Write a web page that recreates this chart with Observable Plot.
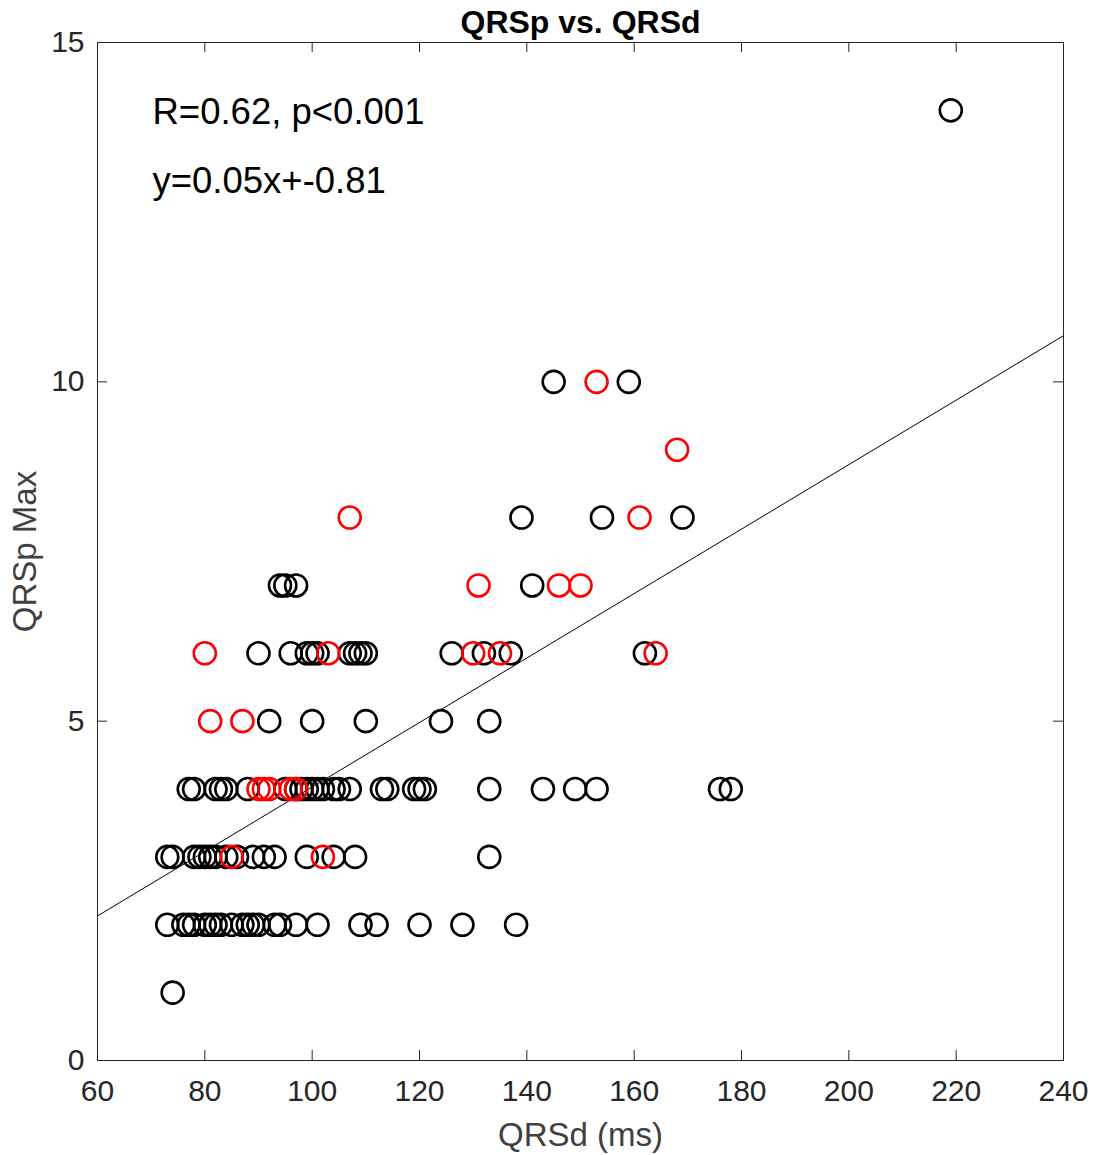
<!DOCTYPE html>
<html>
<head>
<meta charset="utf-8">
<script src="https://cdn.jsdelivr.net/npm/d3@7"></script>
<script src="https://cdn.jsdelivr.net/npm/@observablehq/plot@0.6"></script>
<style>
  html, body { margin: 0; padding: 0; background: #fff; }
  #chart svg { display: block; }
</style>
</head>
<body>
<div id="chart"></div>
<script>
// ---- data ----
const blackX = [
  219,
  145, 159,
  139, 154, 169,
  94, 95, 97, 141,
  90, 96, 99, 100, 101, 107, 108, 109, 110, 126, 132, 137, 162,
  92, 100, 110, 124, 133,
  77, 78, 82, 83, 84, 88, 95, 97, 98, 99, 100, 101, 102, 104, 105, 107, 113, 114, 119, 120, 121, 133, 143, 149, 153, 176, 178,
  73, 74, 78, 79, 80, 81, 82, 84, 86, 89, 91, 93, 99, 104, 108, 133,
  73, 76, 77, 78, 80, 81, 82, 83, 85, 87, 88, 89, 90, 93, 94, 97, 101, 109, 112, 120, 128, 138,
  74
];
const blackY = [
  14,
  10, 10,
  8, 8, 8,
  7, 7, 7, 7,
  6, 6, 6, 6, 6, 6, 6, 6, 6, 6, 6, 6, 6,
  5, 5, 5, 5, 5,
  4, 4, 4, 4, 4, 4, 4, 4, 4, 4, 4, 4, 4, 4, 4, 4, 4, 4, 4, 4, 4, 4, 4, 4, 4, 4, 4,
  3, 3, 3, 3, 3, 3, 3, 3, 3, 3, 3, 3, 3, 3, 3, 3,
  2, 2, 2, 2, 2, 2, 2, 2, 2, 2, 2, 2, 2, 2, 2, 2, 2, 2, 2, 2, 2, 2,
  1
];
const redX = [153, 168, 107, 161, 131, 146, 150, 80, 103, 130, 135, 164, 81, 87, 90, 91, 92, 96, 97, 85, 102];
const redY = [10, 9, 8, 8, 7, 7, 7, 6, 6, 6, 6, 6, 5, 5, 4, 4, 4, 4, 4, 3, 3];

const fitSlope = 0.0475;
const fitIntercept = -0.72;
const fitX = [60, 240];

const xTicks = [60, 80, 100, 120, 140, 160, 180, 200, 220, 240];
const yTicks = [0, 5, 10, 15];

const titleText = "QRSp vs. QRSd";
const statText = ["R=0.62, p<0.001", "y=0.05x+-0.81"];
const xLabel = "QRSd (ms)";
const yLabel = "QRSp Max";

// ---- build ----
const black = blackX.map((x, i) => ({x, y: blackY[i]}));
const red = redX.map((x, i) => ({x, y: redY[i]}));
const fit = fitX.map(x => ({x, y: fitSlope * x + fitIntercept}));

const W = 1096, H = 1155;
const mL = 97, mR = 33, mT = 42, mB = 95;
const pxPerX = (W - mL - mR) / 180;
const pxPerY = (H - mT - mB) / 15;
const tickLenX = 10 / pxPerX;
const tickLenY = 10 / pxPerY;

const font = "'Liberation Sans', Arial, Helvetica, sans-serif";
const axisColor = "#262626";
const labelColor = "#404040";

const chart = Plot.plot({
  width: W,
  height: H,
  marginLeft: mL,
  marginRight: mR,
  marginTop: mT,
  marginBottom: mB,
  style: {fontFamily: font, background: "#fff"},
  x: {domain: [60, 240]},
  y: {domain: [0, 15]},
  marks: [
    Plot.axisX(xTicks, {tickSize: 0, tickPadding: 19, fontSize: 30, color: axisColor, tickFormat: "d",
      label: null}),
    Plot.axisY(yTicks, {tickSize: 0, tickPadding: 13, fontSize: 30, color: axisColor, tickFormat: "d",
      label: null}),
    Plot.text([xLabel], {text: d => d, frameAnchor: "bottom", dy: 75, lineAnchor: "middle",
      fontSize: 33, fill: labelColor}),
    Plot.text([yLabel], {text: d => d, frameAnchor: "left", dx: -72, rotate: -90, lineAnchor: "middle",
      textAnchor: "middle", fontSize: 33, fill: labelColor}),
    Plot.ruleX(xTicks, {x: d => d, y1: 0, y2: tickLenY, stroke: axisColor, strokeWidth: 1}),
    Plot.ruleX(xTicks, {x: d => d, y1: 15 - tickLenY, y2: 15, stroke: axisColor, strokeWidth: 1}),
    Plot.ruleY(yTicks, {y: d => d, x1: 60, x2: 60 + tickLenX, stroke: axisColor, strokeWidth: 1}),
    Plot.ruleY(yTicks, {y: d => d, x1: 240 - tickLenX, x2: 240, stroke: axisColor, strokeWidth: 1}),
    Plot.line(fit, {x: "x", y: "y", stroke: "#000", strokeWidth: 1, clip: true}),
    Plot.dot(black, {x: "x", y: "y", r: 11, stroke: "#000", strokeWidth: 2.6, fill: "none"}),
    Plot.dot(red, {x: "x", y: "y", r: 11, stroke: "#ff0000", strokeWidth: 2.6, fill: "none"}),
    Plot.frame({stroke: axisColor, strokeWidth: 1}),
    Plot.text([titleText], {text: d => d, frameAnchor: "top", dy: -20, lineAnchor: "middle",
      fontSize: 32, fontWeight: "bold", fill: "#000"}),
    Plot.text([statText[0]], {text: d => d, frameAnchor: "top-left", dx: 55, dy: 70, lineAnchor: "middle",
      fontSize: 36.5, fill: "#000", textAnchor: "start"}),
    Plot.text([statText[1]], {text: d => d, frameAnchor: "top-left", dx: 55, dy: 139, lineAnchor: "middle",
      fontSize: 36.5, fill: "#000", textAnchor: "start"})
  ]
});

document.getElementById("chart").appendChild(chart);
</script>
</body>
</html>
